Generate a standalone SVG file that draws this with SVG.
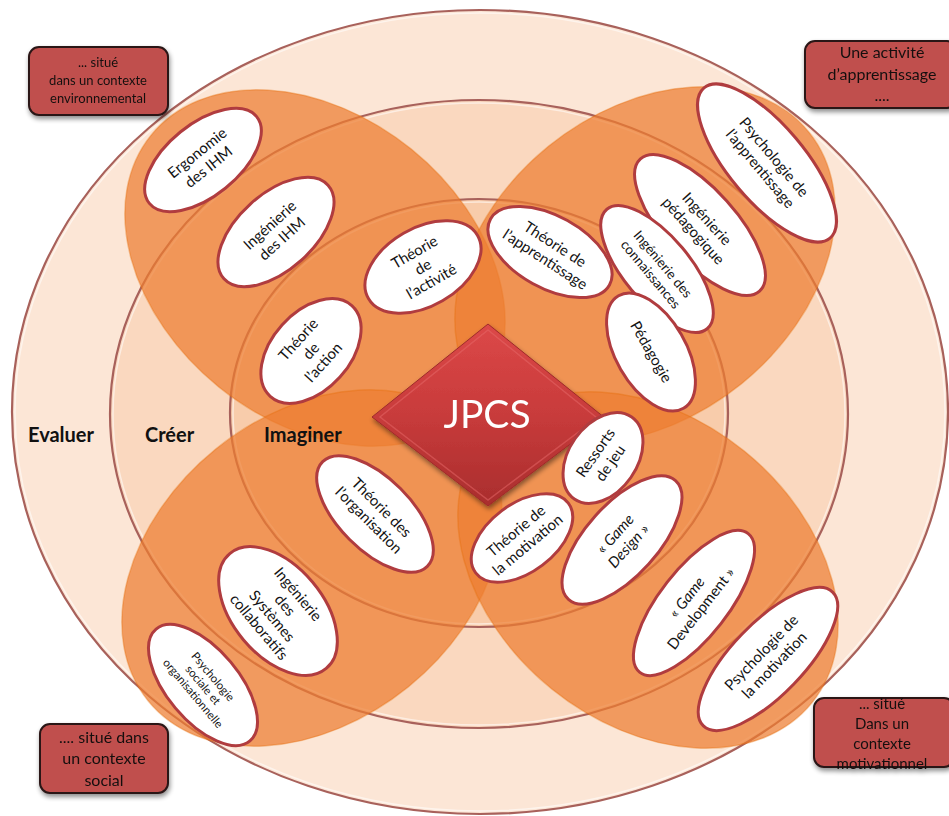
<svg xmlns="http://www.w3.org/2000/svg" width="949" height="816" viewBox="0 0 949 816">
  <defs>
    <linearGradient id="diamondFill" x1="0" y1="0" x2="0" y2="1">
      <stop offset="0" stop-color="#DC4848"/>
      <stop offset="0.5" stop-color="#C83B3B"/>
      <stop offset="1" stop-color="#A92D2D"/>
    </linearGradient>
    <filter id="shadow" x="-20%" y="-20%" width="140%" height="150%">
      <feGaussianBlur in="SourceAlpha" stdDeviation="2.5"/>
      <feOffset dx="1" dy="3" result="b"/>
      <feComponentTransfer><feFuncA type="linear" slope="0.45"/></feComponentTransfer>
      <feMerge><feMergeNode/><feMergeNode in="SourceGraphic"/></feMerge>
    </filter>
    <style>
      .ring { stroke: #A8615B; stroke-width: 2.2; }
      .ring-hl { fill: none; stroke: #ffffff; stroke-opacity: 0.55; stroke-width: 1.5; }
      .petal { fill: #ED7D31; fill-opacity: 0.72; stroke: #E46C0A; stroke-opacity: 0.35; stroke-width: 1.5; }
      .node ellipse { fill: #ffffff; stroke: #B03C3F; stroke-width: 3; }
      .node text { font-family: Lato, "Open Sans", "DejaVu Sans", sans-serif; font-size: 15px; fill: #141414; text-anchor: middle; }
      .stage { font-family: Lato, "Open Sans", sans-serif; font-weight: bold; font-size: 20px; fill: #111111; }
      .box rect { fill: #C0504D; stroke: #2A1515; stroke-width: 2; }
      .box text { font-family: Lato, "Open Sans", sans-serif; fill: #151010; text-anchor: middle; }
      .it { font-style: italic; }
    </style>
  </defs>

  <rect width="949" height="816" fill="#ffffff"/>

  <!-- concentric stages -->
  <g id="stages">
    <ellipse class="ring" cx="480" cy="412" rx="468" ry="402" fill="#FCE6D6"/>
    <ellipse class="ring-hl" cx="480" cy="412" rx="465" ry="399"/>
    <ellipse class="ring" cx="479" cy="414" rx="369" ry="314" fill="#FAD8BF"/>
    <ellipse class="ring-hl" cx="479" cy="414" rx="366" ry="311"/>
    <ellipse class="ring" cx="479" cy="413" rx="249" ry="214" fill="#F8CCAB"/>
    <ellipse class="ring-hl" cx="479" cy="413" rx="246" ry="211"/>
  </g>

  <!-- four domains -->
  <g id="petals">
    <ellipse class="petal" cx="315" cy="268" rx="211" ry="153" transform="rotate(39 315 268)"/>
    <ellipse class="petal" cx="645" cy="265" rx="211" ry="153" transform="rotate(-39 645 265)"/>
    <ellipse class="petal" cx="312" cy="568" rx="211" ry="153" transform="rotate(-39 312 568)"/>
    <ellipse class="petal" cx="648" cy="570" rx="211" ry="153" transform="rotate(39 648 570)"/>
  </g>

  <g id="stage-labels">
    <text class="stage" x="28" y="442">Evaluer</text>
    <text class="stage" x="145" y="442">Créer</text>
    <text class="stage" x="264" y="442">Imaginer</text>
  </g>

  <!-- centre -->
  <g id="jpcs" filter="url(#shadow)">
    <polygon points="488,324 605,418 488,506 372,417" fill="url(#diamondFill)" stroke="#9E2A2A" stroke-width="1"/>
    <polygon points="488,330 597,418 488,500 380,417" fill="none" stroke="#E86A6A" stroke-opacity="0.5" stroke-width="1.5"/>
    <text x="487" y="428" font-family="Lato, 'Open Sans', sans-serif" font-size="39" fill="#ffffff" text-anchor="middle">JPCS</text>
  </g>

  <!-- topics -->
  <g id="ergonomie-ihm" class="node" transform="translate(203,160) rotate(-39)">
    <ellipse rx="69" ry="36"/>
    <text y="-4">Ergonomie</text><text y="14">des IHM</text>
  </g>
  <g id="ingenierie-ihm" class="node" transform="translate(276,232) rotate(-42)">
    <ellipse rx="70" ry="38"/>
    <text y="-4">Ingénierie</text><text y="14">des IHM</text>
  </g>
  <g id="theorie-activite" class="node" transform="translate(423,267) rotate(-30)">
    <ellipse rx="63" ry="39"/>
    <text y="-12">Théorie</text><text y="5">de</text><text y="22">l’activité</text>
  </g>
  <g id="theorie-action" class="node" transform="translate(311,351) rotate(-48)">
    <ellipse rx="61" ry="39"/>
    <text y="-12">Théorie</text><text y="5">de</text><text y="22">l’action</text>
  </g>
  <g id="psy-apprentissage" class="node" transform="translate(767,163) rotate(50)">
    <ellipse rx="98" ry="38"/>
    <text y="-4">Psychologie de</text><text y="14">l’apprentissage</text>
  </g>
  <g id="ing-pedagogique" class="node" transform="translate(700,225) rotate(48)">
    <ellipse rx="89" ry="36"/>
    <text y="-4">Ingénierie</text><text y="14">pédagogique</text>
  </g>
  <g id="ing-connaissances" class="node" transform="translate(657,269) rotate(50)">
    <ellipse rx="78" ry="33"/>
    <text y="-3" style="font-size:13.5px">Ingénierie des</text><text y="13" style="font-size:13.5px">connaissances</text>
  </g>
  <g id="theorie-apprentissage" class="node" transform="translate(550,252) rotate(29)">
    <ellipse rx="68" ry="36"/>
    <text y="-4" transform="rotate(4)">Théorie de</text><text y="14" transform="rotate(4)">l’apprentissage</text>
  </g>
  <g id="pedagogie" class="node" transform="translate(651,352) rotate(60)">
    <ellipse rx="65" ry="35"/>
    <text y="5">Pédagogie</text>
  </g>
  <g id="theorie-organisation" class="node" transform="translate(375,514) rotate(45)">
    <ellipse rx="74" ry="36"/>
    <text y="-4">Théorie des</text><text y="14">l’organisation</text>
  </g>
  <g id="ing-collaboratifs" class="node" transform="translate(278,611) rotate(50)">
    <ellipse rx="75" ry="45"/>
    <text y="-21">Ingénierie</text><text y="-4">des</text><text y="13">Systèmes</text><text y="30">collaboratifs</text>
  </g>
  <g id="psy-sociale" class="node" transform="translate(203,685) rotate(50)">
    <ellipse rx="73" ry="36"/>
    <text y="-9" style="font-size:11.5px">Psychologie</text><text y="4" style="font-size:11.5px">sociale et</text><text y="17" style="font-size:11.5px">organisationnelle</text>
  </g>
  <g id="ressorts-jeu" class="node" transform="translate(603,458) rotate(-55)">
    <ellipse rx="50" ry="34"/>
    <text y="-4">Ressorts</text><text y="14">de jeu</text>
  </g>
  <g id="theorie-motivation" class="node" transform="translate(522,538) rotate(-37)">
    <ellipse rx="58" ry="34"/>
    <text y="-4" transform="rotate(-3)">Théorie de</text><text y="14" transform="rotate(-3)">la motivation</text>
  </g>
  <g id="game-design" class="node" transform="translate(622,540) rotate(-48)">
    <ellipse rx="80" ry="36"/>
    <text y="-4">« <tspan class="it">Game</tspan></text><text y="14"><tspan class="it">Design</tspan> »</text>
  </g>
  <g id="game-development" class="node" transform="translate(694,603) rotate(-52)">
    <ellipse rx="88" ry="34"/>
    <text y="-4">« <tspan class="it">Game</tspan></text><text y="14">Development »</text>
  </g>
  <g id="psy-motivation" class="node" transform="translate(768,659) rotate(-46)">
    <ellipse rx="93" ry="36"/>
    <text y="-4">Psychologie de</text><text y="14">la motivation</text>
  </g>

  <!-- context boxes -->
  <g id="ctx-environnemental" class="box" filter="url(#shadow)">
    <rect x="29" y="47" width="139" height="68" rx="10"/>
    <text x="98" y="67" font-size="13">... situé</text>
    <text x="98" y="85" font-size="13">dans un contexte</text>
    <text x="98" y="103" font-size="13">environnemental</text>
  </g>
  <g id="ctx-apprentissage" class="box" filter="url(#shadow)">
    <rect x="805" y="41" width="152" height="67" rx="10"/>
    <text x="882" y="58" font-size="16">Une activité</text>
    <text x="882" y="80" font-size="16">d’apprentissage</text>
    <text x="882" y="101" font-size="16">....</text>
  </g>
  <g id="ctx-social" class="box" filter="url(#shadow)">
    <rect x="40" y="724" width="128" height="69" rx="10"/>
    <text x="104" y="743" font-size="16">.... situé dans</text>
    <text x="104" y="764" font-size="16">un contexte</text>
    <text x="104" y="786" font-size="16">social</text>
  </g>
  <g id="ctx-motivationnel" class="box" filter="url(#shadow)">
    <rect x="814" y="698" width="140" height="69" rx="10"/>
    <text x="882" y="709" font-size="15">... situé</text>
    <text x="882" y="729" font-size="15">Dans un</text>
    <text x="882" y="749" font-size="15">contexte</text>
    <text x="882" y="769" font-size="15">motivationnel</text>
  </g>
</svg>
